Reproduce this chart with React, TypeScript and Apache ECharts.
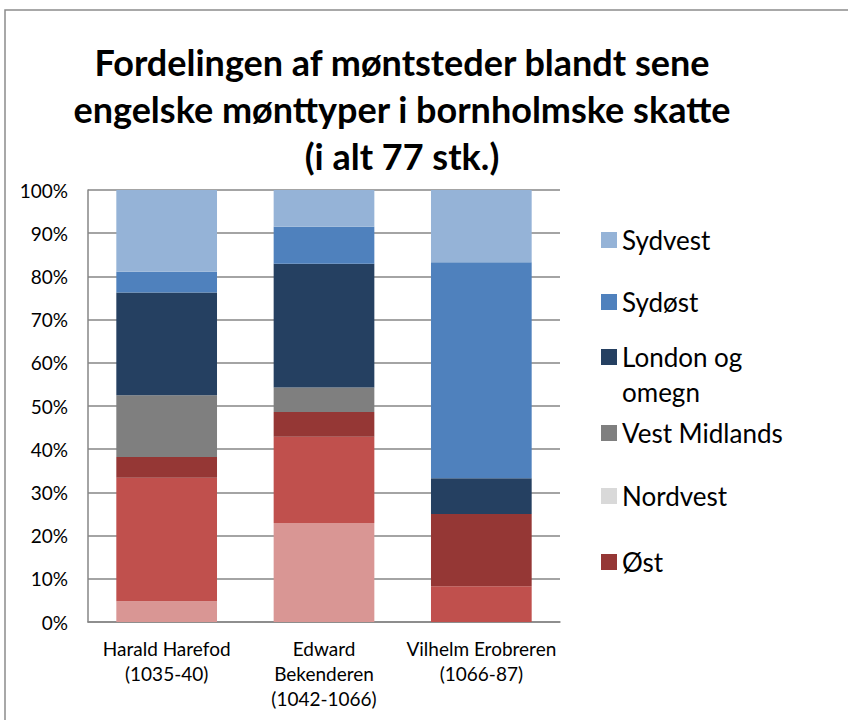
import React, { useEffect, useRef } from "react";
import * as echarts from "echarts";

const categories = [
  "Harald Harefod\n(1035-40)",
  "Edward\nBekenderen\n(1042-1066)",
  "Vilhelm Erobreren\n(1066-87)",
];
const yTicks = [0, 10, 20, 30, 40, 50, 60, 70, 80, 90, 100];

// percentages, bottom to top of each bar
const nordoestVals = [4.8, 22.9, 0];
const midtVals = [28.6, 20.0, 8.3];
const oestVals = [4.8, 5.7, 16.7];
const nordvestVals = [0, 0, 0];
const vestMidlandsVals = [14.3, 5.7, 0];
const londonVals = [23.8, 28.6, 8.3];
const sydoestVals = [4.8, 8.6, 50.0];
const sydvestVals = [19.0, 8.6, 16.7];

const seriesDefs = [
  { name: "Nordøst", data: nordoestVals, color: "#D99694" },
  { name: "Midt", data: midtVals, color: "#C0504D" },
  { name: "Øst", data: oestVals, color: "#953735" },
  { name: "Nordvest", data: nordvestVals, color: "#D9D9D9" },
  { name: "Vest Midlands", data: vestMidlandsVals, color: "#7F7F7F" },
  { name: "London og omegn", data: londonVals, color: "#254061" },
  { name: "Sydøst", data: sydoestVals, color: "#4F81BD" },
  { name: "Sydvest", data: sydvestVals, color: "#95B3D7" },
];

const legendItems = [
  { name: "Sydvest", center: 240 },
  { name: "Sydøst", center: 302 },
  { name: "London og omegn", center: 357 },
  { name: "Vest Midlands", center: 433 },
  { name: "Nordvest", center: 496 },
  { name: "Øst", center: 562 },
];

const FONT = "Lato";

export default function App() {
  const ref = useRef<HTMLDivElement>(null);
  useEffect(() => {
    if (!ref.current) return;
    const chart = echarts.init(ref.current, undefined, { renderer: "svg" });
    const legendFont = 26;
    chart.setOption({
      animation: false,
      backgroundColor: "#ffffff",
      textStyle: { fontFamily: FONT },
      title: {
        text: "Fordelingen af møntsteder blandt sene\nengelske mønttyper i bornholmske skatte\n(i alt 77 stk.)",
        left: 402,
        top: 38,
        textAlign: "center",
        padding: 0,
        textStyle: {
          fontFamily: FONT,
          fontSize: 36,
          fontWeight: "bold",
          color: "#000000",
          lineHeight: 47,
        },
      },
      graphic: [
        {
          type: "rect",
          shape: { x: 5, y: 10, width: 900, height: 800 },
          style: { fill: "none", stroke: "#8C8C8C", lineWidth: 1.5 },
          silent: true,
        },
        {
          type: "text",
          x: 622,
          y: 392,
          style: {
            text: "omegn",
            fontFamily: FONT,
            fontSize: legendFont,
            fill: "#000000",
            verticalAlign: "middle",
          },
        },
      ],
      legend: legendItems.map((it) => ({
        data: [it.name],
        orient: "vertical",
        left: 601,
        top: it.center - 14,
        padding: 0,
        itemWidth: 16,
        itemHeight: 16,
        icon: "rect",
        selectedMode: false,
        formatter: (n: string) => (n === "London og omegn" ? "London og" : n),
        textStyle: {
          fontFamily: FONT,
          fontSize: legendFont,
          lineHeight: 28,
          color: "#000000",
        },
      })),
      grid: { left: 88, right: 288, top: 190, bottom: 98 },
      xAxis: {
        type: "category",
        data: categories,
        axisTick: { show: false },
        axisLine: { show: true, lineStyle: { color: "#868686", width: 1.5 } },
        axisLabel: {
          fontFamily: FONT,
          fontSize: 19,
          lineHeight: 25,
          color: "#000000",
          margin: 14,
          interval: 0,
        },
      },
      yAxis: {
        type: "value",
        min: yTicks[0],
        max: yTicks[yTicks.length - 1],
        interval: 10,
        axisLine: { show: true, lineStyle: { color: "#868686", width: 1.5 } },
        axisTick: { show: false },
        splitLine: { show: true, lineStyle: { color: "#868686", width: 1.5 } },
        axisLabel: {
          fontFamily: FONT,
          fontSize: 19,
          color: "#000000",
          margin: 20,
          formatter: "{value}%",
        },
      },
      series: seriesDefs.map((s) => ({
        name: s.name,
        type: "bar",
        stack: "total",
        barWidth: "64%",
        data: s.data,
        itemStyle: { color: s.color },
      })),
    });
    return () => chart.dispose();
  }, []);
  return (
    <div
      ref={ref}
      style={{ position: "absolute", left: 0, top: 0, width: 848, height: 720 }}
    />
  );
}
